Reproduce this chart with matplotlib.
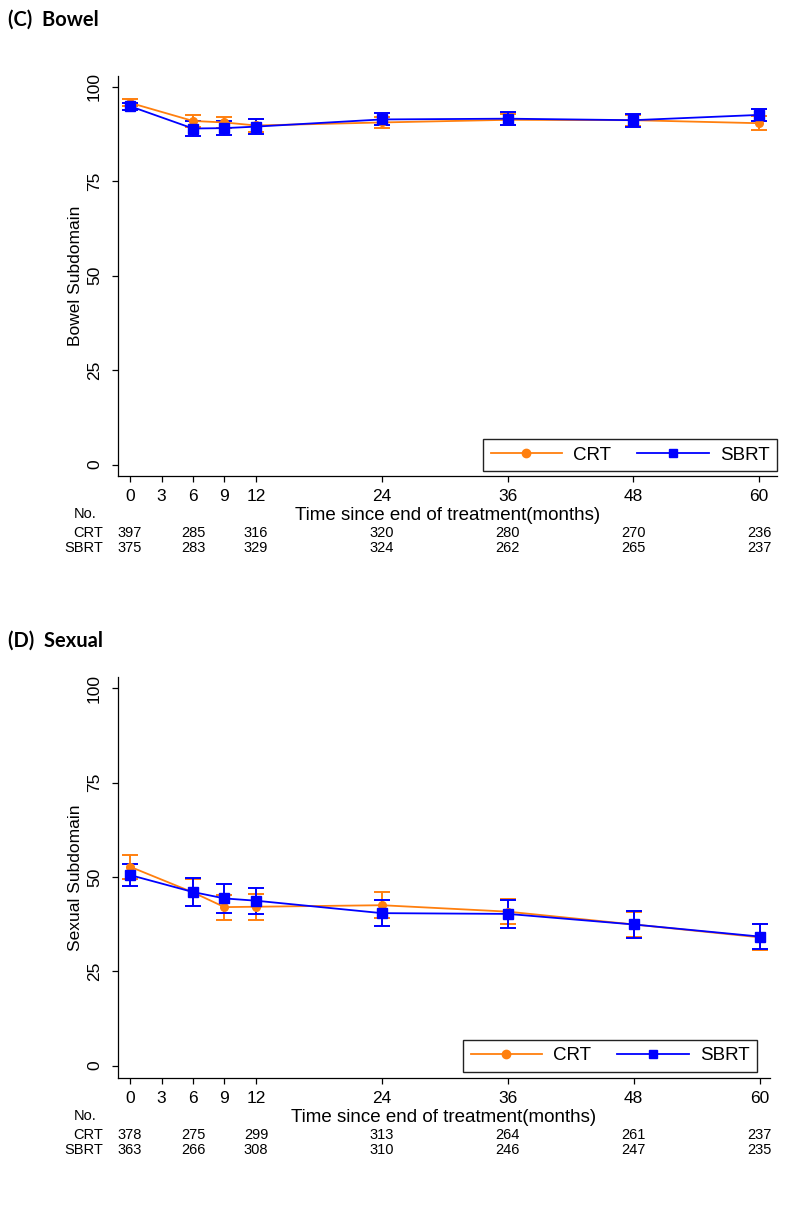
import matplotlib
matplotlib.use('Agg')
import matplotlib.pyplot as plt
from matplotlib import font_manager
from matplotlib.lines import Line2D
from matplotlib.transforms import blended_transform_factory


months = [0, 6, 9, 12, 24, 36, 48, 60]

bowel_crt = [95.8, 91.0, 90.6, 89.8, 90.6, 91.3, 91.2, 90.4]
bowel_crt_err = [0.9, 1.6, 1.5, 1.8, 1.4, 1.5, 1.5, 1.8]
bowel_sbrt = [94.9, 89.0, 89.1, 89.5, 91.4, 91.6, 91.2, 92.6]
bowel_sbrt_err = [0.9, 1.9, 1.8, 1.9, 1.6, 1.7, 1.7, 1.5]

sexual_crt = [52.7, 45.9, 42.0, 42.1, 42.5, 40.8, 37.4, 34.0]
sexual_crt_err = [3.2, 3.5, 3.3, 3.4, 3.4, 3.4, 3.4, 3.4]
sexual_sbrt = [50.5, 46.0, 44.3, 43.7, 40.4, 40.2, 37.4, 34.2]
sexual_sbrt_err = [3.0, 3.6, 3.9, 3.4, 3.4, 3.8, 3.5, 3.4]

xticks = [0, 3, 6, 9, 12, 24, 36, 48, 60]
yticks = [0, 25, 50, 75, 100]

risk_months = [0, 6, 12, 24, 36, 48, 60]
bowel_n_crt = [397, 285, 316, 320, 280, 270, 236]
bowel_n_sbrt = [375, 283, 329, 324, 262, 265, 237]
sexual_n_crt = [378, 275, 299, 313, 264, 261, 237]
sexual_n_sbrt = [363, 266, 308, 310, 246, 247, 235]

ORANGE = '#ff7f0e'
BLUE = '#0000ff'

W, H = 800, 1210
plt.rcParams['font.family'] = ['Liberation Sans', 'DejaVu Sans']
try:
    font_manager.findfont('Lato', fallback_to_default=False)
    title_font = 'Lato'
except Exception:
    title_font = 'DejaVu Sans'

fig = plt.figure(figsize=(W / 100, H / 100), dpi=100)

panels = [
    # title, ylabel, crt, crt err, sbrt, sbrt err, n crt, n sbrt,
    # axes box in pixels (left, top, right, bottom), ylim, xlim right, title baseline, legend pos
    ('(C)  Bowel', 'Bowel Subdomain', bowel_crt, bowel_crt_err, bowel_sbrt, bowel_sbrt_err,
     bowel_n_crt, bowel_n_sbrt, (118, 76, 777, 476), (-3.0, 102.9), 61.7, 26, (777, 471)),
    ('(D)  Sexual', 'Sexual Subdomain', sexual_crt, sexual_crt_err, sexual_sbrt, sexual_sbrt_err,
     sexual_n_crt, sexual_n_sbrt, (118, 677, 770, 1078), (-3.3, 103.0), 61.0, 647, (757, 1072)),
]

for (title, ylab, crt, crt_e, sbrt, sbrt_e, n_crt, n_sbrt,
     box, ylim, xright, title_y, leg) in panels:
    l, t, r, b = box
    ax = fig.add_axes([l / W, 1 - b / H, (r - l) / W, (b - t) / H])

    ax.errorbar(months, crt, yerr=crt_e, color=ORANGE, marker='o', markersize=5.5,
                linewidth=1.3, elinewidth=1.4, capsize=5.5, capthick=1.4)
    ax.errorbar(months, sbrt, yerr=sbrt_e, color=BLUE, marker='s', markersize=6.5,
                linewidth=1.3, elinewidth=1.4, capsize=5.5, capthick=1.4)

    ax.set_xlim(-1.15, xright)
    ax.set_ylim(*ylim)
    ax.set_xticks(xticks)
    ax.set_yticks(yticks)
    ax.spines['top'].set_visible(False)
    ax.spines['right'].set_visible(False)
    for s in ['left', 'bottom']:
        ax.spines[s].set_linewidth(0.9)
    ax.tick_params(axis='both', length=4.5, width=0.9, labelsize=12.5)
    ax.tick_params(axis='x', pad=5)
    ax.tick_params(axis='y', pad=7, labelrotation=90)
    for lab in ax.get_yticklabels():
        lab.set_va('center')
    ax.set_ylabel(ylab, fontsize=12.5, labelpad=3)

    handles = [Line2D([], [], color=ORANGE, marker='o', markersize=6, linewidth=1.3),
               Line2D([], [], color=BLUE, marker='s', markersize=6, linewidth=1.3)]
    lx = (leg[0] - l) / (r - l)
    ly = (b - leg[1]) / (b - t)
    lg = ax.legend(handles, ['CRT', 'SBRT'], ncol=2, loc='lower right',
                   bbox_to_anchor=(lx, ly), borderaxespad=0, fontsize=13.5,
                   handlelength=3.8, handletextpad=0.6, columnspacing=1.4,
                   fancybox=False, edgecolor='#222222', framealpha=1,
                   borderpad=0.4)
    lg.get_frame().set_linewidth(1.0)

    fig.text(8 / W, 1 - title_y / H, title, fontsize=14.5, fontweight='bold',
             family=title_font, va='baseline', ha='left')

    # risk table under the axis
    tr = blended_transform_factory(ax.transData, fig.transFigure)
    fig.text(85 / W, 1 - (b + 38) / H, 'No.', fontsize=10.5, ha='center', va='center')
    fig.text((l + r) / 2 / W, 1 - (b + 39) / H, 'Time since end of treatment(months)',
             fontsize=13.5, ha='center', va='center')
    fig.text(103 / W, 1 - (b + 57) / H, 'CRT', fontsize=10.5, ha='right', va='center')
    fig.text(103 / W, 1 - (b + 72) / H, 'SBRT', fontsize=10.5, ha='right', va='center')
    for m, a, s in zip(risk_months, n_crt, n_sbrt):
        ax.text(m, 1 - (b + 57) / H, str(a), transform=tr, fontsize=10.5,
                ha='center', va='center')
        ax.text(m, 1 - (b + 72) / H, str(s), transform=tr, fontsize=10.5,
                ha='center', va='center')

fig.savefig('out.png', dpi=100)
